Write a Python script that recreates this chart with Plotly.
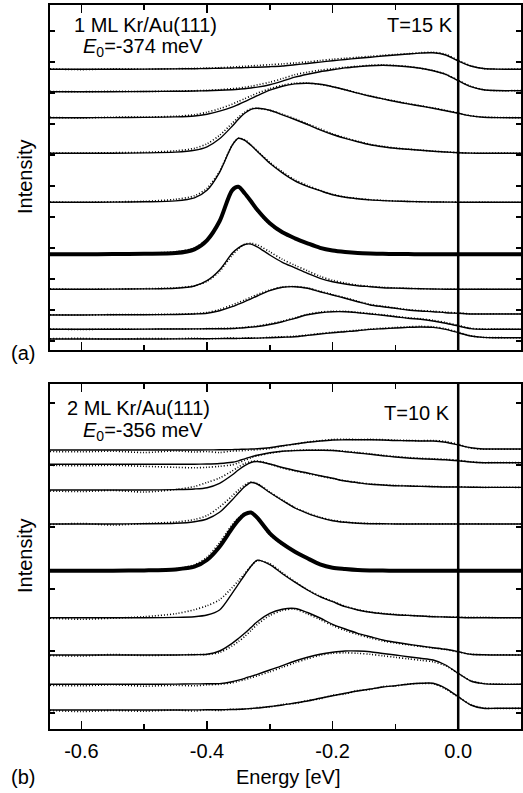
import plotly.graph_objects as go

# ---------------- data ----------------
energy = [-0.65, -0.60, -0.55, -0.50, -0.45, -0.42, -0.40, -0.38, -0.36, -0.35, -0.34, -0.33,
          -0.32, -0.30, -0.28, -0.26, -0.24, -0.22, -0.20, -0.18, -0.16, -0.14, -0.12, -0.10,
          -0.08, -0.06, -0.04, -0.02, 0.00, 0.02, 0.04, 0.06, 0.10]

# panel (a): 1 ML Kr/Au(111), vertical offsets of the spectra (top to bottom)
offsets_a = [280.7, 258.3, 232.3, 196.7, 147.7, 95.7, 60.7, 35.0, 20.7, 11.0]

a1_fit = [0, 0, 0, 0.2, 0.4, 0.6, 0.8, 1.0, 1.3, 1.5, 1.7, 1.9, 2.1, 2.6, 3.3, 4.6, 5.8, 7.2, 8.6, 9.8, 11.0, 12.1, 13.3, 14.3, 15.3, 16.2, 16.5, 14.3, 8.3, 3.3, 0.8, 0.2, 0]
a1_dat = [0.4, -0.3, 0.4, 0.1, 0.6, 0.9, 1.2, 1.6, 2.2, 2.6, 3.0, 3.4, 3.8, 4.6, 5.4, 6.3, 7.4, 8.8, 10.0, 11.0, 12.0, 13.0, 14.0, 14.8, 15.6, 16.6, 17.0, 15.0, 9.0, 3.6, 0.8, 0.1, 0.3]
a2_fit = [0, 0, 0, 0.2, 0.4, 0.7, 1.0, 1.4, 2.0, 2.4, 3.0, 3.7, 4.6, 7.0, 10.5, 14.5, 17.5, 20.0, 22.0, 23.8, 25.0, 26.0, 26.4, 26.0, 25.0, 23.4, 21.0, 17.4, 11.0, 5.0, 2.0, 1.2, 1.0]
a2_dat = [0.3, 0, 0.4, 0.2, 0.6, 1.0, 1.4, 2.0, 3.0, 3.6, 4.5, 5.5, 6.8, 9.5, 13.0, 17.0, 19.5, 21.5, 23.0, 24.5, 25.5, 26.5, 26.8, 26.2, 25.3, 23.5, 21.2, 17.5, 11.5, 5.5, 2.0, 1.0, 1.2]
a3_fit = [0, 0, 0.1, 0.3, 0.8, 1.7, 3.5, 6.5, 10.5, 13.2, 16.0, 19.0, 22.0, 27.5, 31.5, 33.8, 34.4, 33.4, 31.0, 28.0, 24.6, 21.5, 18.8, 16.2, 13.8, 11.7, 9.4, 7.0, 4.4, 1.8, 0.5, 0.1, 0]
a3_dat = [0.3, -0.2, 0.5, 0.6, 1.5, 3.0, 5.5, 9.0, 13.5, 16.3, 19.0, 21.8, 24.5, 29.0, 32.5, 34.5, 34.6, 33.2, 31.0, 28.0, 24.8, 21.8, 19.0, 16.6, 14.2, 12.0, 9.8, 7.4, 4.6, 2.0, 0.6, 0.3, 0]
a4_fit = [0, 0, 0.1, 0.4, 1.2, 3.0, 6.5, 14.5, 27.0, 34.0, 40.0, 44.0, 45.0, 43.0, 38.5, 33.8, 28.8, 23.5, 18.8, 15.0, 11.6, 8.6, 6.6, 5.0, 4.0, 3.0, 2.0, 1.3, 0.6, 0.2, 0, 0, 0]
a4_dat = [0.3, 0.2, 0.6, 1.0, 2.5, 5.0, 9.5, 18.0, 30.0, 36.0, 41.0, 44.5, 45.0, 43.0, 39.0, 34.5, 29.5, 24.5, 19.5, 15.5, 12.0, 9.0, 7.0, 5.3, 4.2, 3.2, 2.2, 1.4, 0.7, 0.3, 0, 0.2, 0]
a5_fit = [0, 0, 0.2, 0.5, 1.4, 4.5, 12.0, 30.0, 57.0, 64.0, 62.0, 57.0, 51.0, 39.0, 29.5, 21.5, 16.0, 11.6, 7.5, 5.0, 3.6, 2.4, 1.7, 1.2, 0.8, 0.5, 0.3, 0.2, 0.1, 0, 0, 0, 0]
a5_dat = [0.3, 0, 0.5, 1.0, 3.0, 6.5, 14.0, 31.0, 57.0, 64.0, 62.5, 57.5, 51.5, 40.0, 30.5, 22.5, 16.8, 12.0, 8.0, 5.3, 3.8, 2.6, 1.9, 1.3, 0.9, 0.6, 0.3, 0.4, 0.1, 0, 0.2, 0, 0]
a6_fit = [0, 0, 0.2, 0.5, 1.2, 5.0, 14.0, 33.0, 64.0, 67.5, 61.0, 53.0, 44.5, 31.0, 22.0, 16.0, 11.0, 6.5, 3.8, 2.3, 1.3, 0.8, 0.5, 0.3, 0.2, 0.1, 0, 0, 0, 0, 0, 0, 0]
a6_dat = [0.3, 0, 0.6, 1.2, 2.5, 6.5, 15.0, 33.0, 63.0, 67.0, 60.0, 52.0, 43.0, 30.0, 21.0, 15.5, 10.5, 6.5, 3.8, 2.3, 1.3, 0.8, 0.5, 0.3, 0.2, 0.1, 0, 0, 0, 0, 0, 0, 0]
a7_fit = [0, 0, 0.2, 0.4, 1.0, 3.3, 8.6, 19.3, 36.0, 41.5, 44.8, 45.2, 42.5, 34.3, 27.0, 21.5, 16.0, 11.0, 7.6, 5.3, 3.6, 2.6, 1.6, 1.2, 0.8, 0.5, 0.3, 0.1, 0, 0, 0, 0, 0]
a7_dat = [0.4, 0, 0.3, 0.6, 1.5, 3.5, 8.0, 18.0, 34.0, 40.5, 45.0, 46.0, 44.5, 37.5, 30.0, 24.0, 18.5, 13.0, 9.0, 6.3, 4.2, 3.0, 2.0, 1.4, 1.0, 0.6, 0.3, 0.3, 0.1, 0, 0.2, 0, 0]
a8_fit = [0, 0, 0.2, 0.3, 0.5, 1.0, 1.7, 4.3, 8.3, 10.8, 13.3, 16.2, 19.0, 24.3, 27.7, 28.3, 26.7, 23.3, 20.0, 16.7, 13.3, 10.0, 8.3, 6.7, 5.0, 4.0, 3.3, 2.3, 1.7, 1.0, 1.0, 1.0, 1.0]
a8_dat = [0.3, 0, 0.4, 0.5, 0.8, 1.4, 2.5, 5.5, 10.0, 12.5, 15.0, 17.8, 20.5, 25.0, 28.0, 28.5, 27.0, 23.8, 20.5, 17.2, 13.8, 10.5, 8.8, 7.0, 5.4, 4.4, 3.8, 2.8, 2.0, 1.2, 1.0, 1.2, 1.0]
a9_fit = [0, 0, 0, 0.2, 0.3, 0.4, 0.5, 0.6, 0.8, 1.2, 1.6, 2.2, 2.8, 4.8, 7.5, 11.0, 14.5, 16.6, 17.6, 17.6, 16.6, 15.3, 14.0, 12.6, 11.0, 10.0, 8.3, 6.0, 3.3, 0.7, 0, 0, 0]
a9_dat = [0.3, -0.2, 0.3, 0, 0.5, 0.3, 0.7, 0.9, 1.0, 1.5, 2.0, 2.6, 3.3, 5.5, 8.2, 11.5, 15.0, 17.2, 18.0, 18.0, 17.0, 15.8, 14.5, 13.0, 11.5, 10.6, 9.0, 6.8, 3.8, 1.0, 0.2, 0.3, 0]
a10_fit = [0, 0, 0, 0, 0.1, 0.2, 0.3, 0.4, 0.5, 0.6, 0.7, 0.8, 0.9, 1.3, 1.8, 2.3, 3.6, 5.0, 6.3, 7.3, 8.3, 9.6, 10.3, 11.0, 11.6, 12.0, 11.6, 9.6, 6.3, 3.0, 1.6, 1.3, 1.3]
a10_dat = [0.3, 0.6, -0.2, 0.5, 0.3, 0.8, 0.2, 0.6, 1.0, 0.5, 1.0, 1.2, 0.8, 1.8, 2.2, 2.8, 4.0, 5.5, 6.8, 7.8, 8.8, 10.0, 10.8, 11.5, 12.2, 12.6, 12.2, 10.2, 6.8, 3.2, 1.6, 1.4, 1.2]

# panel (b): 2 ML Kr/Au(111)
offsets_b = [279.0, 264.7, 239.0, 205.0, 158.3, 111.3, 74.0, 44.7, 19.0]

b1_fit = [0, 0, 0, 0, 0, 0, 0.1, 0.2, 0.4, 0.6, 0.8, 1.0, 1.2, 2.3, 4.3, 6.0, 7.7, 9.0, 10.0, 10.2, 10.3, 10.3, 10.0, 9.5, 9.3, 9.0, 9.0, 7.7, 5.0, 2.3, 1.0, 1.0, 1.0]
b1_dat = [-1.5, -1.8, -1.2, -2.5, -1.0, -2.0, -1.5, -2.5, -1.0, -0.8, -0.5, 0, 0.3, 1.5, 3.8, 5.8, 8.0, 9.3, 10.5, 10.8, 10.5, 10.6, 10.4, 9.8, 9.6, 9.3, 9.5, 8.5, 5.8, 2.0, 0.8, 0.8, 0.8]
b2_fit = [0, 0, 0, 0, 0, 0.1, 0.3, 0.8, 2.0, 3.5, 5.5, 7.5, 9.0, 11.5, 13.0, 13.7, 14.0, 14.0, 13.8, 12.6, 11.3, 10.0, 8.6, 7.3, 6.3, 5.6, 5.0, 4.6, 3.6, 2.3, 1.6, 1.6, 1.6]
b2_dat = [-1.0, -1.5, -1.0, -2.0, -3.0, -3.5, -3.0, -2.0, -0.5, 1.5, 4.0, 6.5, 8.5, 11.0, 13.0, 14.0, 14.3, 14.3, 14.0, 13.0, 11.8, 10.5, 9.0, 7.8, 6.8, 6.0, 5.5, 5.0, 4.0, 2.5, 1.6, 1.8, 1.6]
b3_fit = [0, 0, 0, 0, 0.4, 1.0, 2.3, 6.7, 15.0, 20.0, 24.3, 27.5, 28.5, 26.0, 22.5, 19.5, 17.0, 14.3, 11.7, 9.0, 7.3, 5.7, 5.0, 4.3, 4.0, 3.6, 3.3, 3.0, 3.0, 2.8, 2.6, 2.6, 2.6]
b3_dat = [-1.0, -1.5, -0.5, -2.0, 0.5, 3.5, 7.5, 12.0, 19.0, 23.0, 26.5, 28.5, 29.0, 26.0, 22.0, 19.0, 16.5, 14.0, 11.5, 9.2, 7.6, 6.0, 5.2, 4.6, 4.2, 3.8, 3.6, 3.2, 3.3, 3.0, 2.6, 2.8, 2.6]
b4_fit = [0, 0, 0, 0.2, 0.7, 2.3, 5.0, 11.7, 24.0, 31.0, 37.3, 41.5, 40.0, 31.5, 23.5, 16.0, 10.7, 6.3, 3.3, 1.7, 0.7, 0.3, 0.2, 0, 0, 0, 0, 0, 0, 0, 0, 0, 0]
b4_dat = [-0.5, 0.5, -1.0, 0.5, 2.0, 4.5, 8.5, 17.0, 28.0, 34.0, 39.0, 42.0, 40.5, 32.0, 24.0, 16.5, 11.0, 6.8, 3.8, 2.0, 1.0, 0.5, 0.3, 0.2, 0, 0.3, 0, 0.2, 0, 0.3, 0, 0, 0]
b5_fit = [0, 0, 0, 0.3, 1.3, 4.0, 10.7, 24.0, 42.4, 50.5, 56.4, 58.2, 53.0, 37.4, 27.0, 19.0, 12.4, 6.4, 3.0, 1.7, 0.7, 0.3, 0.1, 0, 0, 0, 0, 0, 0, 0, 0, 0, 0]
b5_dat = [-0.5, 0.3, -0.5, 0.5, 2.0, 6.0, 13.5, 28.0, 46.0, 53.0, 57.5, 58.0, 52.0, 36.0, 26.0, 18.5, 12.0, 6.5, 3.0, 1.7, 0.7, 0.3, 0.1, 0, 0, 0, 0, 0, 0, 0, 0, 0, 0]
b6_fit = [0, 0, 0, 0, 0.3, 1.0, 2.7, 7.7, 24.4, 33.5, 42.7, 51.5, 57.5, 53.0, 44.0, 35.5, 27.7, 21.0, 16.0, 11.0, 7.7, 5.4, 4.0, 3.0, 2.3, 1.7, 1.0, 0.7, 0.3, 0, 0, 0, 0]
b6_dat = [-0.5, -1.5, -0.5, 1.0, 4.0, 8.0, 12.0, 18.0, 30.0, 37.0, 44.0, 51.5, 57.0, 54.0, 45.0, 36.0, 28.0, 21.5, 16.3, 11.5, 8.0, 5.6, 4.3, 3.3, 2.5, 1.7, 1.2, 0.8, 0.5, 0.3, 0.5, 0, 0]
b7_fit = [0, 0, 0, 0, 0, 0.3, 0.7, 4.0, 11.7, 16.5, 21.7, 27.5, 33.3, 41.7, 45.7, 46.5, 42.5, 37.0, 30.7, 26.0, 21.7, 18.3, 15.0, 12.7, 10.7, 9.0, 7.3, 5.7, 3.3, 0.7, 0.2, 0, 0]
b7_dat = [-0.5, -1.0, 0.5, -0.5, 0, 0.5, 0.5, 2.5, 9.0, 13.5, 18.5, 24.5, 30.5, 39.5, 44.5, 46.0, 41.0, 35.5, 29.5, 24.5, 20.5, 17.0, 14.0, 12.0, 10.2, 8.5, 7.0, 5.5, 3.0, 0.8, 0.3, 0.3, 0]
b8_fit = [0, 0, 0, 0, 0.2, 0.4, 0.5, 0.7, 2.6, 4.2, 6.0, 8.0, 10.0, 14.3, 18.6, 23.3, 27.0, 30.0, 32.0, 33.3, 33.3, 32.6, 30.8, 29.3, 27.6, 26.0, 24.3, 19.3, 11.0, 3.3, 0.7, 0, 0]
b8_dat = [-1.0, -1.5, -0.5, -1.8, -1.0, -1.5, -0.5, 0, 1.5, 3.0, 4.5, 6.5, 8.5, 12.5, 17.0, 21.5, 25.5, 29.0, 31.0, 31.5, 31.0, 30.0, 28.5, 27.0, 25.5, 24.0, 22.5, 18.5, 11.0, 3.5, 0.8, 0.3, 0]
b9_fit = [0, 0, 0, 0, 0, 0.1, 0.2, 0.3, 0.5, 0.7, 1.0, 1.5, 2.0, 3.5, 5.0, 7.0, 9.0, 11.7, 14.3, 16.7, 19.0, 21.0, 23.0, 24.3, 25.7, 26.7, 26.7, 21.7, 13.3, 5.0, 1.7, 1.7, 1.7]
b9_dat = [-0.5, -1.5, -0.5, -1.2, 0, -1.0, 0.3, -0.5, 0.8, 0.5, 1.2, 1.3, 2.5, 3.0, 5.5, 6.5, 9.5, 11.2, 14.8, 16.0, 19.5, 20.5, 23.5, 24.0, 26.0, 26.5, 26.2, 21.0, 13.0, 5.5, 2.0, 1.5, 1.7]

fits_a = [a1_fit, a2_fit, a3_fit, a4_fit, a5_fit, a6_fit, a7_fit, a8_fit, a9_fit, a10_fit]
dats_a = [a1_dat, a2_dat, a3_dat, a4_dat, a5_dat, a6_dat, a7_dat, a8_dat, a9_dat, a10_dat]
fits_b = [b1_fit, b2_fit, b3_fit, b4_fit, b5_fit, b6_fit, b7_fit, b8_fit, b9_fit]
dats_b = [b1_dat, b2_dat, b3_dat, b4_dat, b5_dat, b6_dat, b7_dat, b8_dat, b9_dat]
bold_a = 5   # index of the E0 spectrum (thick line)
bold_b = 4

xtick_vals = [-0.6, -0.4, -0.2, 0.0]
xtick_text = ["-0.6", "-0.4", "-0.2", "0.0"]
xminor_vals = [-0.5, -0.3, -0.1]

# ---------------- figure ----------------
W, H = 523, 793
FONT = "Liberation Sans, Arial, Helvetica, sans-serif"
fig = go.Figure()


def add_panel(fits, dats, offsets, bold, xa, ya):
    for i, (f, d, off) in enumerate(zip(fits, dats, offsets)):
        fig.add_trace(go.Scatter(
            x=energy, y=[off + v for v in d], xaxis=xa, yaxis=ya, mode="lines",
            line=dict(color="black", width=1.6, dash="1px,2px", shape="spline", smoothing=0.8),
            hoverinfo="skip", showlegend=False))
        fig.add_trace(go.Scatter(
            x=energy, y=[off + v for v in f], xaxis=xa, yaxis=ya, mode="lines",
            line=dict(color="black", width=4 if i == bold else 1.4, shape="spline", smoothing=0.8),
            hoverinfo="skip", showlegend=False))


add_panel(fits_a, dats_a, offsets_a, bold_a, "x", "y")
add_panel(fits_b, dats_b, offsets_b, bold_b, "x2", "y2")

xdom = [50 / W, 521 / W]
ydom_a = [(H - 350) / H, (H - 5) / H]
ydom_b = [(H - 729) / H, (H - 384) / H]

common_x = dict(range=[-0.65, 0.1], showline=True, linewidth=2, linecolor="black", mirror="ticks",
                ticks="inside", ticklen=8, tickwidth=1.6, tickcolor="black",
                tickvals=xtick_vals, ticktext=xtick_text,
                minor=dict(tickvals=xminor_vals, ticks="inside", ticklen=5, tickwidth=1.6, tickcolor="black"),
                showgrid=False, zeroline=False, domain=xdom, fixedrange=True)
common_y = dict(range=[0, 345], showline=True, linewidth=2, linecolor="black", mirror="ticks",
                ticks="inside", ticklen=5, tickwidth=1.6, tickcolor="black", showticklabels=False,
                showgrid=False, zeroline=False, fixedrange=True)

fig.update_layout(
    width=W, height=H, autosize=False, template="none",
    margin=dict(l=0, r=0, t=0, b=0),
    paper_bgcolor="white", plot_bgcolor="white",
    font=dict(family=FONT, size=20, color="black"),
    xaxis=dict(common_x, anchor="y", showticklabels=False),
    yaxis=dict(common_y, anchor="x", domain=ydom_a, tick0=9, dtick=31, tickmode="linear"),
    xaxis2=dict(common_x, anchor="y2", showticklabels=True, tickfont=dict(size=20), ticklabelstandoff=3),
    yaxis2=dict(common_y, anchor="x2", domain=ydom_b, tick0=16, dtick=62, tickmode="linear"),
)

# vertical line at the Fermi level in both panels
for xr, yr in [("x", "y domain"), ("x2", "y2 domain")]:
    fig.add_shape(type="line", xref=xr, yref=yr, x0=0, x1=0, y0=0, y1=1,
                  line=dict(color="black", width=2.5), layer="above")


def px(x):
    return x / W


def py(y):
    return 1 - y / H


annots = [
    ("1 ML Kr/Au(111)", 72, 25, "left", 0),
    ("<i>E</i><sub>0</sub>=-374 meV", 81, 47, "left", 0),
    ("T=15 K", 455, 25, "right", 0),
    ("2 ML Kr/Au(111)", 65, 408, "left", 0),
    ("<i>E</i><sub>0</sub>=-356 meV", 81, 431, "left", 0),
    ("T=10 K", 452, 413, "right", 0),
    ("Intensity", 25, 177, "center", -90),
    ("Intensity", 25, 556, "center", -90),
    ("(a)", 23, 353, "center", 0),
    ("(b)", 23, 777, "center", 0),
    ("Energy [eV]", 288, 777, "center", 0),
]
for text, x, y, xa, ang in annots:
    fig.add_annotation(text=text, x=px(x), y=py(y), xref="paper", yref="paper",
                       xanchor=xa, yanchor="middle", showarrow=False, textangle=ang,
                       font=dict(family=FONT, size=20, color="black"))

fig.write_html("out.html", config={"displayModeBar": False, "staticPlot": True},
               post_script="document.body.style.margin='0';document.body.style.overflow='hidden';")
